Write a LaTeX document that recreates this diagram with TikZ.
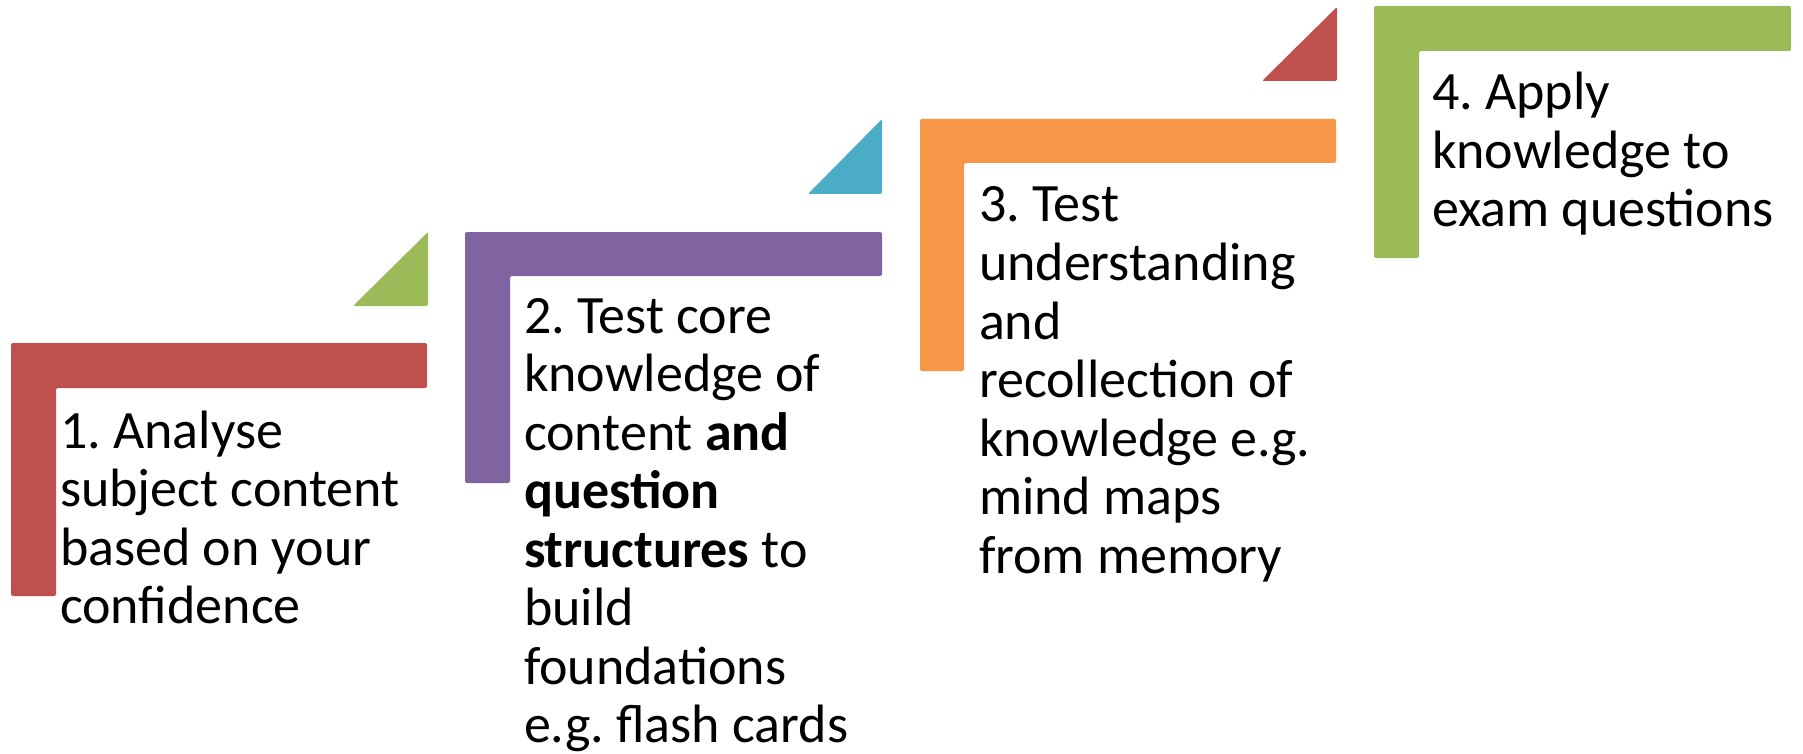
\documentclass[tikz,border=0pt]{standalone}
\usepackage{fontspec}
\setmainfont{Carlito}
\frenchspacing
\definecolor{cred}{HTML}{C0504D}
\definecolor{cpurple}{HTML}{8064A2}
\definecolor{corange}{HTML}{F79646}
\definecolor{cgreen}{HTML}{9BBB59}
\definecolor{cblue}{HTML}{4BACC6}
\newcommand{\steptext}[1]{\parbox[t]{500pt}{\fontsize{54}{58.5}\selectfont\frenchspacing\raggedright #1}}
\begin{document}
\begin{tikzpicture}[x=1pt,y=-1pt,
  lshape/.style={rounded corners=2pt},
  tri/.style={rounded corners=2pt},
  label/.style={anchor=base west,inner sep=0pt,outer sep=0pt}]
\useasboundingbox (0,0) rectangle (1803,754);
% step 1
\fill[cred,lshape] (11,343) -- (427,343) -- (427,388) -- (56,388) -- (56,596) -- (11,596) -- cycle;
\fill[cgreen,tri] (353,306) -- (428,306) -- (428,232) -- cycle;
\node[label] (t1) at (60,448) {\steptext{1. Analyse\\subject content\\based on your\\confidence}};
% step 2
\fill[cpurple,lshape] (465,232) -- (882,232) -- (882,276) -- (510,276) -- (510,483) -- (465,483) -- cycle;
\fill[cblue,tri] (808,194) -- (882,194) -- (882,119) -- cycle;
\node[label] (t2) at (524,333) {\steptext{2. Test core\\knowledge of\\content \textbf{and}\\\textbf{question}\\\textbf{structures} to\\build\\foundations\\e.g. flash cards}};
% step 3
\fill[corange,lshape] (920,119) -- (1336,119) -- (1336,163) -- (964,163) -- (964,371) -- (920,371) -- cycle;
\fill[cred,tri] (1262,81) -- (1337,81) -- (1337,7) -- cycle;
\node[label] (t3) at (979,222) {\steptext{3. Test\\understanding\\and\\recollection of\\knowledge e.g.\\mind maps\\from memory}};
% step 4
\fill[cgreen,lshape] (1374,6) -- (1791,6) -- (1791,51) -- (1419,51) -- (1419,258) -- (1374,258) -- cycle;
\node[label] (t4) at (1432,110) {\steptext{4. Apply\\knowledge to\\exam questions}};
\end{tikzpicture}
\end{document}
